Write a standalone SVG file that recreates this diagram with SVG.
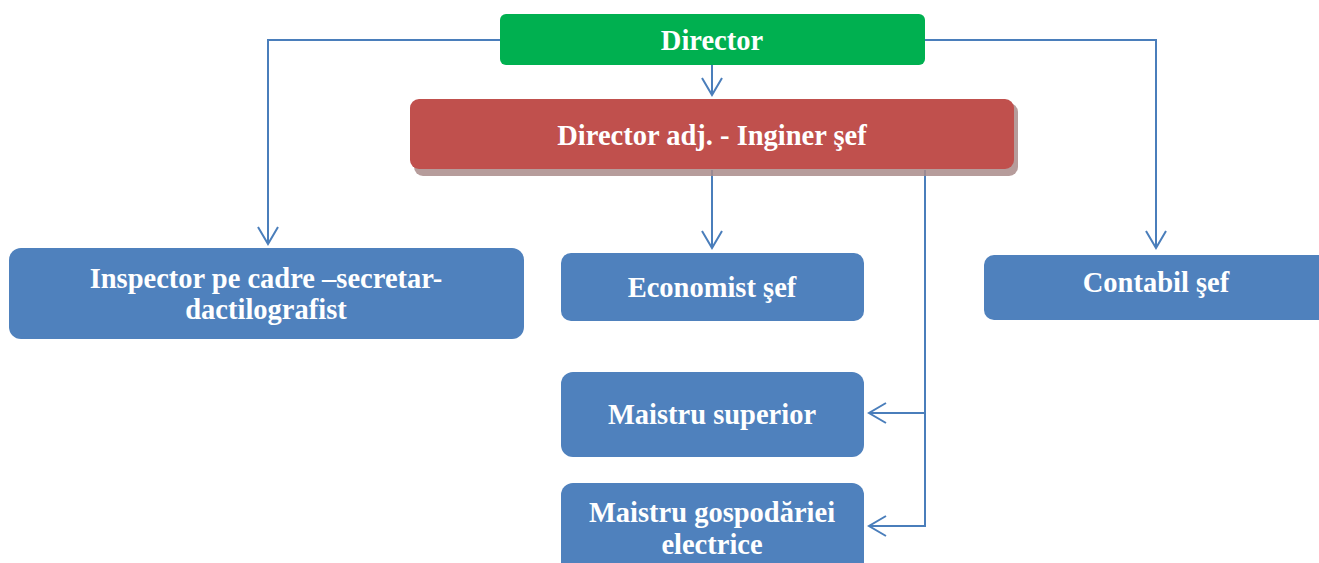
<svg xmlns="http://www.w3.org/2000/svg" width="1319" height="563" viewBox="0 0 1319 563">
<style>
.t{font-family:"Liberation Serif","Times New Roman",serif;font-weight:bold;font-size:28.5px;fill:#fff;text-anchor:middle}
.c{fill:none;stroke:#4A7EBB;stroke-width:2}
.b{fill:#4F81BD}
</style>
<defs>
<marker id="ah" viewBox="0 0 20 22" refX="18" refY="11" markerWidth="20" markerHeight="22" markerUnits="userSpaceOnUse" orient="auto">
<polyline points="1,1 18,11 1,21" fill="none" stroke="#4A7EBB" stroke-width="2"/>
</marker>
</defs>
<rect width="1319" height="563" fill="#fff"/>
<g id="connectors">
<polyline class="c" points="500,40 268,40 268,244" marker-end="url(#ah)"/>
<polyline class="c" points="925,40 1156,40 1156,248" marker-end="url(#ah)"/>
<line class="c" x1="712" y1="65" x2="712" y2="95" marker-end="url(#ah)"/>
<line class="c" x1="712" y1="170" x2="712" y2="248" marker-end="url(#ah)"/>
<polyline class="c" points="925,170 925,526 869,526" marker-end="url(#ah)"/>
<line class="c" x1="925" y1="413" x2="869" y2="413" marker-end="url(#ah)"/>
</g>
<g id="director">
<rect x="500" y="14" width="425" height="51" rx="6" fill="#00B050"/>
<text class="t" x="712" y="50">Director</text>
</g>
<g id="director-adj">
<rect x="414" y="103" width="604" height="73" rx="9" fill="#A98B8A" opacity="0.85"/>
<rect x="410" y="99" width="604" height="70" rx="9" fill="#C0504D"/>
<text class="t" x="712" y="145">Director adj. - Inginer şef</text>
</g>
<g id="inspector">
<rect class="b" x="9" y="248" width="515" height="91" rx="12"/>
<text class="t" x="266" y="288">Inspector pe cadre –secretar-</text>
<text class="t" x="266" y="319">dactilografist</text>
</g>
<g id="economist">
<rect class="b" x="561" y="253" width="303" height="68" rx="10"/>
<text class="t" x="712" y="297">Economist şef</text>
</g>
<g id="contabil">
<rect class="b" x="984" y="255" width="345" height="65" rx="10"/>
<text class="t" x="1156" y="292">Contabil şef</text>
</g>
<g id="maistru-superior">
<rect class="b" x="561" y="372" width="303" height="85" rx="12"/>
<text class="t" x="712" y="424">Maistru superior</text>
</g>
<g id="maistru-gospodariei">
<rect class="b" x="561" y="483" width="303" height="95" rx="12"/>
<text class="t" x="712" y="522">Maistru gospodăriei</text>
<text class="t" x="712" y="554">electrice</text>
</g>
</svg>
